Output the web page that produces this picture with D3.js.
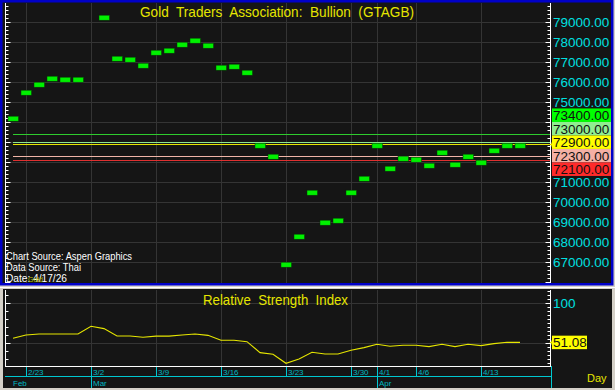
<!DOCTYPE html>
<html><head><meta charset="utf-8">
<script src="https://cdn.jsdelivr.net/npm/d3@7"></script>
<style>
body{margin:0;background:#d4d0c8;}
svg{display:block;font-family:"Liberation Sans",Arial,sans-serif;}
</style>
</head><body><svg id="c" width="615" height="390"></svg>
<script>
// ---------------- data ----------------
const dates = ["2/20","2/23","2/24","2/25","2/26","2/27","3/2","3/3","3/4","3/5","3/6",
  "3/9","3/10","3/11","3/12","3/13","3/16","3/17","3/18","3/19","3/20",
  "3/23","3/24","3/25","3/26","3/27","3/30","3/31","4/1","4/2","4/3",
  "4/6","4/7","4/8","4/9","4/10","4/13","4/14","4/15","4/16"];
const prices = [74250,75550,75950,76250,76200,76200,null,79300,77250,77200,76900,
  77550,77650,77950,78150,77900,76800,76850,76550,72900,72350,
  66950,68350,70550,69050,69150,70550,71250,72900,71750,72250,
  72200,71900,72550,71950,72350,72050,72650,72900,72900];
const rsi = [56.2,60.4,61.6,61.6,61.6,61.6,71.2,68.3,59.1,59.1,57.5,
  59.0,59.0,60.4,61.6,59.9,53.8,53.8,52.0,38.3,36.2,
  25.0,30.4,38.7,36.6,36.6,41.2,44.6,48.7,46.2,47.5,
  47.5,45.8,48.7,45.8,48.7,47.1,49.6,51.2,51.08];
const levelValues = [73400,73000,72900,72300,72100];
const levelLabels = ["73400.00","73000.00","72900.00","72300.00","72100.00"];
const priceTicks = [67000,68000,69000,70000,71000,72000,73000,74000,75000,76000,77000,78000,79000];
const dateTickLabels = ["2/23","3/2","3/9","3/16","3/23","3/30","4/1","4/6","4/13"];
const monthLabels = ["Feb","Mar","Apr"];
const monthStarts = ["2/20","3/2","4/1"];
const rsiGrid = [50,100];
const rsiLast = "51.08";
const title = "Gold  Traders  Association:  Bullion  (GTAGB)";
const rsiTitle = "Relative  Strength  Index";
const notes = ["Chart Source: Aspen Graphics","Data Source: Thai","Date: 4/17/26"];

// ---------------- styles ----------------
const levelStroke = ["#2ecc2e","#8fe88f","#e6e600","#f0b4a8","#e03030"];
const levelFill = ["#00ff00","#90ee90","#ffff00","#f4b0a4","#ff2a2a"];
const noteWidths = [126,75,61];
const BG = "#151515", GRID = "#343434", CYAN = "#00e0e0", YEL = "#e6e600";

const svg = d3.select("#c");

// scales
const x = d3.scaleLinear().domain([0, dates.length - 1]).range([13, 520]);
const y = d3.scaleLinear().domain([67000, 79000]).range([261.7, 21.7]);
const yR = d3.scaleLinear().domain([21.6, 116.6]).range([366, 290]);
const idx = d => dates.indexOf(d);

// ---------------- frames ----------------
svg.append("rect").attr("x",0).attr("y",0).attr("width",615).attr("height",390).attr("fill","#d4d0c8");
svg.append("rect").attr("x",1.25).attr("y",1.25).attr("width",611).attr("height",283)
  .attr("fill",BG).attr("stroke","#0000c8").attr("stroke-width",2.5);
svg.append("line").attr("x1",0).attr("x2",615).attr("y1",287.5).attr("y2",287.5).attr("stroke","#ffffff");
svg.append("rect").attr("x",3).attr("y",289).attr("width",609).attr("height",99).attr("fill",BG);

// ---------------- top panel ----------------
const gTop = svg.append("g");
const clip = svg.append("clipPath").attr("id","clipTop");
clip.append("rect").attr("x",3).attr("y",3).attr("width",548).attr("height",280);

// grid
gTop.selectAll(".hg").data(priceTicks).join("line")
  .attr("x1",7).attr("x2",551).attr("y1",d=>Math.round(y(d))+0.5).attr("y2",d=>Math.round(y(d))+0.5)
  .attr("stroke",GRID);
gTop.selectAll(".vg").data(dateTickLabels).join("line")
  .attr("x1",d=>Math.round(x(idx(d)))+0.5).attr("x2",d=>Math.round(x(idx(d)))+0.5)
  .attr("y1",3).attr("y2",283).attr("stroke",GRID);

// left & right axes with ticks
function vAxis(g, scale, xPos, dir, minorStep, majorStep, lo, hi, y1, y2){
  const a = g.append("g");
  a.append("line").attr("x1",xPos+0.5).attr("x2",xPos+0.5).attr("y1",y1).attr("y2",y2).attr("stroke","#ffffff");
  const ticks = d3.range(Math.ceil(lo/minorStep)*minorStep, hi, minorStep);
  a.selectAll("line.t").data(ticks).join("line").attr("class","t")
    .attr("x1",xPos+0.5).attr("x2",d=>xPos+0.5+dir*((Math.abs(d % majorStep) < 1e-6)?5:3))
    .attr("y1",d=>Math.round(scale(d))+0.5).attr("y2",d=>Math.round(scale(d))+0.5)
    .attr("stroke","#ffffff");
}
vAxis(gTop, y, 5, 1, 200, 1000, 66000, 79950, 3, 283);
vAxis(gTop, y, 550, -1, 200, 1000, 66000, 79950, 3, 283);

// title
gTop.append("text").attr("x",277).attr("y",17).attr("text-anchor","middle")
  .attr("textLength",274).attr("lengthAdjust","spacingAndGlyphs")
  .attr("fill",YEL).style("font-size","15px").style("white-space","pre").text(title);

// level lines
const lv = gTop.append("g").attr("clip-path","url(#clipTop)");
lv.selectAll("line").data(levelValues).join("line")
  .attr("x1",x(0)).attr("x2",x(dates.length+1.3))
  .attr("y1",d=>Math.round(y(d))+0.5).attr("y2",d=>Math.round(y(d))+0.5)
  .attr("stroke",(d,i)=>levelStroke[i]).attr("stroke-width",1.2);

// price marks
const pts = prices.map((v,i)=>({i,v})).filter(d=>d.v!=null);
lv.selectAll("rect").data(pts).join("rect")
  .attr("x",d=>x(d.i)-5).attr("y",d=>y(d.v)-0.5).attr("width",10.5).attr("height",5)
  .attr("fill","#00f000").attr("stroke","#063806").attr("stroke-width",0.5);

// last price arrow
const lastV = prices[prices.length-1];
const ax = x(dates.length+1.6), ay = Math.round(y(lastV))+0.5;
gTop.append("path").attr("d",`M${ax-4},${ay}H${ax+3}M${ax},${ay-2.5}L${ax+3},${ay}L${ax},${ay+2.5}M${ax-2},${ay-2}V${ay+2}`)
  .attr("stroke",YEL).attr("fill","none").attr("stroke-width",1);

// level label boxes (stacked)
const boxH = 13.5, anchorIdx = 3;
const centers = levelValues.map((v,i)=> y(levelValues[anchorIdx]) + (i-anchorIdx)*boxH);
const boxTop = centers[0]-boxH/2, boxBot = centers[centers.length-1]+boxH/2;

// right axis labels (those hidden under the level boxes are not drawn)
gTop.selectAll(".pl").data(priceTicks.filter(d=>y(d)<boxTop||y(d)>boxBot)).join("text")
  .attr("x",553).attr("y",d=>y(d)+5).attr("fill",CYAN)
  .style("font-size","13.5px").text(d=>d3.format(".2f")(d));

levelValues.forEach((v,i)=>{
  gTop.append("rect").attr("x",552).attr("y",centers[i]-boxH/2).attr("width",59).attr("height",boxH)
    .attr("fill",levelFill[i]);
  gTop.append("text").attr("x",553).attr("y",centers[i]+5).attr("fill","#101010")
    .style("font-size","13.5px").text(levelLabels[i]);
});

// notes
notes.forEach((t,i)=>{
  gTop.append("text").attr("x",6).attr("y",260+i*11).attr("fill","#ffffff")
    .attr("textLength",noteWidths[i]).attr("lengthAdjust","spacingAndGlyphs")
    .style("font-size","11px").text(t);
});
gTop.append("text").attr("x",28).attr("y",282).attr("fill","#b4c400").style("font-size","7px").text("Gold");

// ---------------- bottom panel ----------------
const gBot = svg.append("g");
gBot.selectAll(".hg").data(rsiGrid).join("line")
  .attr("x1",6).attr("x2",551).attr("y1",d=>Math.round(yR(d))+0.5).attr("y2",d=>Math.round(yR(d))+0.5)
  .attr("stroke",GRID);
gBot.selectAll(".vg").data(dateTickLabels).join("line")
  .attr("x1",d=>Math.round(x(idx(d)))+0.5).attr("x2",d=>Math.round(x(idx(d)))+0.5)
  .attr("y1",290).attr("y2",366).attr("stroke",GRID);
vAxis(gBot, yR, 5, 1, 10, 50, 22, 116, 290, 366);
vAxis(gBot, yR, 550, -1, 5, 50, 22, 116, 290, 366);

gBot.append("text").attr("x",275.5).attr("y",305).attr("text-anchor","middle")
  .attr("textLength",145).attr("lengthAdjust","spacingAndGlyphs")
  .attr("fill",YEL).style("font-size","15px").style("white-space","pre").text(rsiTitle);

gBot.append("path").datum(rsi.map((v,i)=>[i,v]))
  .attr("d", d3.line().x(d=>x(d[0])).y(d=>yR(d[1])))
  .attr("fill","none").attr("stroke",YEL).attr("stroke-width",1.1);

const rx = x(dates.length+1.6), ry = Math.round(yR(rsi[rsi.length-1]))+0.5;
gBot.append("path").attr("d",`M${rx-4},${ry}H${rx+3}M${rx},${ry-2.5}L${rx+3},${ry}L${rx},${ry+2.5}M${rx-2},${ry-2}V${ry+2}`)
  .attr("stroke",YEL).attr("fill","none");

gBot.append("text").attr("x",553).attr("y",yR(100)+5).attr("fill",CYAN).style("font-size","13.5px").text("100");
gBot.append("rect").attr("x",552).attr("y",yR(+rsiLast)-boxH/2).attr("width",35).attr("height",boxH).attr("fill","#ffff00");
gBot.append("text").attr("x",553).attr("y",yR(+rsiLast)+5).attr("fill","#101010").style("font-size","13.5px").text(rsiLast);

// x axis
gBot.append("line").attr("x1",5).attr("x2",551).attr("y1",366.5).attr("y2",366.5).attr("stroke","#ffffff");
gBot.append("line").attr("x1",5).attr("x2",551).attr("y1",376.5).attr("y2",376.5).attr("stroke","#00c8d0");
gBot.append("line").attr("x1",551.5).attr("x2",551.5).attr("y1",366).attr("y2",388).attr("stroke","#00c8d0");
gBot.selectAll(".dt").data(dateTickLabels).join("line")
  .attr("x1",d=>Math.round(x(idx(d)))+0.5).attr("x2",d=>Math.round(x(idx(d)))+0.5)
  .attr("y1",367).attr("y2",d=>monthStarts.includes(d)?388:376)
  .attr("stroke","#00c8d0");
gBot.selectAll(".dl").data(dateTickLabels).join("text")
  .attr("x",d=>x(idx(d))+2).attr("y",374.5).attr("fill","#00b8c0")
  .style("font-size","8px").text(d=>d);
gBot.selectAll(".ml").data(monthLabels).join("text")
  .attr("x",(d,i)=>i===0?x(0):x(idx(monthStarts[i]))+2).attr("y",385.5).attr("fill","#00b8c0")
  .style("font-size","8px").text(d=>d);
gBot.append("text").attr("x",587).attr("y",382).attr("fill",YEL).style("font-size","11px").text("Day");
</script>
</body></html>
